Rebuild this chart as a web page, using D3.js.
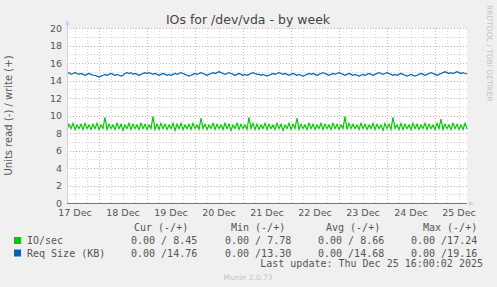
<!DOCTYPE html>
<html lang="en">
<head>
<meta charset="UTF-8">
<title>IOs for /dev/vda - by week</title>
<script src="https://d3js.org/d3.v7.min.js"></script>
<style>
  body { margin: 0; background: #f0f0f0; }
  svg { display: block; }
  .lbl { font-family: "DejaVu Sans", sans-serif; fill: #555; }
  .mono { font-family: "DejaVu Sans Mono", monospace; font-size: 10px; fill: #555; }
</style>
</head>
<body>
<svg id="chart"></svg>
<script>
// hourly samples starting 17 Dec 08:00 (UTC), ending 25 Dec 16:00
const startTime = Date.UTC(2025, 11, 17, 8);
const endTime = Date.UTC(2025, 11, 25, 16);

const ioSec = [
  8.4,9.0,8.5,9.1,8.4,8.9,8.5,9.0,8.4,9.1,8.5,8.9,8.4,9.0,8.5,9.1,8.4,8.9,8.5,9.8,8.4,9.0,8.5,8.9,
  8.4,9.1,8.5,9.0,8.3,8.9,8.5,9.1,8.4,9.0,8.5,8.9,8.4,9.1,8.5,9.0,8.4,8.9,8.5,9.9,8.4,9.0,8.4,9.1,
  8.5,9.0,8.4,8.9,8.5,9.1,8.3,9.0,8.5,9.1,8.4,8.9,8.5,9.0,8.4,9.1,8.5,8.9,8.4,9.7,8.5,9.0,8.4,8.9,
  8.5,9.1,8.4,9.0,8.5,8.9,8.4,9.1,8.5,9.0,8.3,8.9,8.5,9.1,8.4,9.0,8.5,8.9,8.4,9.8,8.5,9.1,8.4,9.0,
  8.4,8.9,8.5,9.1,8.4,9.0,8.5,8.9,8.4,9.1,8.5,9.0,8.3,8.9,8.5,9.1,8.4,9.0,8.5,9.7,8.4,9.0,8.5,8.9,
  8.4,9.1,8.5,9.0,8.4,8.9,8.5,9.1,8.4,9.0,8.5,8.9,8.4,9.1,8.5,9.0,8.4,8.9,8.5,9.9,8.4,9.1,8.5,9.0,
  8.5,8.9,8.4,9.1,8.5,9.0,8.4,8.9,8.5,9.1,8.4,9.0,8.5,8.9,8.3,9.1,8.5,9.0,8.4,9.8,8.5,8.9,8.4,9.1,
  8.4,9.0,8.5,8.9,8.4,9.1,8.5,9.0,8.4,8.9,8.5,9.1,8.4,9.0,8.5,8.9,8.4,9.1,8.5,9.6,8.4,9.0,8.5,8.9,
  8.4,9.1,8.5,9.0,8.4,8.9,8.4,9.1,8.45
];

const reqSize = [
  14.8,14.9,14.7,14.8,14.9,14.8,14.7,14.8,14.7,14.6,14.7,14.8,14.7,14.6,14.6,14.5,14.4,14.5,14.6,14.7,14.6,14.7,14.8,14.7,
  14.6,14.7,14.6,14.5,14.6,14.8,14.9,14.8,14.9,14.7,14.8,14.7,14.6,14.7,14.8,14.9,14.8,14.9,14.8,14.7,14.8,14.7,14.6,14.7,
  14.8,14.7,14.6,14.7,14.6,14.7,14.8,14.7,14.8,14.9,14.8,14.7,14.6,14.5,14.6,14.7,14.8,14.7,14.8,14.9,14.8,14.7,14.6,14.7,
  14.8,14.9,14.8,14.9,15.0,14.9,14.8,14.7,14.8,14.9,14.8,14.7,14.6,14.7,14.8,14.7,14.6,14.7,14.6,14.7,14.8,14.9,14.8,14.7,
  14.7,14.6,14.7,14.6,14.5,14.6,14.7,14.8,14.7,14.8,14.9,14.8,14.7,14.8,14.7,14.6,14.7,14.8,14.7,14.6,14.7,14.6,14.5,14.6,
  14.7,14.8,14.7,14.8,14.7,14.6,14.7,14.8,14.9,14.8,14.7,14.6,14.7,14.8,14.7,14.8,14.9,14.8,14.7,14.6,14.7,14.8,14.7,14.6,
  14.7,14.6,14.5,14.6,14.7,14.6,14.7,14.8,14.7,14.6,14.7,14.8,14.9,14.8,14.7,14.8,14.9,14.8,14.7,14.6,14.7,14.6,14.7,14.8,
  14.7,14.6,14.5,14.6,14.7,14.6,14.5,14.6,14.7,14.8,14.7,14.6,14.7,14.8,14.9,14.8,14.7,14.6,14.7,14.8,14.9,15.0,14.9,14.8,
  14.9,14.8,14.9,15.0,14.9,14.8,14.9,14.8,14.76
];

const yTicks = [0, 2, 4, 6, 8, 10, 12, 14, 16, 18, 20];

const legendNames = ["IO/sec", "Req Size (KB)"];
const legendColors = ["#00cc00", "#0066b3"];
const legendHeaders = ["Cur (-/+)", "Min (-/+)", "Avg (-/+)", "Max (-/+)"];
const legendValues = [
  ["0.00 / 8.45", "0.00 / 7.78", "0.00 / 8.66", "0.00 /17.24"],
  ["0.00 /14.76", "0.00 /13.30", "0.00 /14.68", "0.00 /19.16"]
];

const W = 497, H = 287;
const plot = { left: 67, right: 467, top: 28, bottom: 203 };

const svg = d3.select("#chart").attr("width", W).attr("height", H);

const x = d3.scaleUtc().domain([startTime, endTime]).range([plot.left, plot.right]);
const y = d3.scaleLinear().domain([0, 20]).range([plot.bottom, plot.top]);

// plot background
svg.append("rect")
  .attr("x", plot.left).attr("y", plot.top)
  .attr("width", plot.right - plot.left).attr("height", plot.bottom - plot.top)
  .attr("fill", "#fff");

// minor grid
const grid = svg.append("g").attr("fill", "none").attr("stroke-dasharray", "1,2");
d3.range(1, 20, 2).forEach(v => {
  grid.append("line").attr("x1", plot.left).attr("x2", plot.right)
    .attr("y1", Math.round(y(v)) + 0.5).attr("y2", Math.round(y(v)) + 0.5)
    .attr("stroke", "#d0d0d0");
});
d3.utcHour.every(6).range(new Date(startTime), new Date(endTime)).forEach(t => {
  if (t.getUTCHours() === 0) return;
  grid.append("line").attr("y1", plot.top).attr("y2", plot.bottom)
    .attr("x1", Math.round(x(t)) + 0.5).attr("x2", Math.round(x(t)) + 0.5)
    .attr("stroke", "#d0d0d0");
});
// major grid
yTicks.filter(v => v > 0).forEach(v => {
  grid.append("line").attr("x1", plot.left).attr("x2", plot.right + 2)
    .attr("y1", Math.round(y(v)) + 0.5).attr("y2", Math.round(y(v)) + 0.5)
    .attr("stroke", "#eaa6a6");
});
const days = d3.utcDay.range(new Date(startTime), new Date(endTime));
days.forEach(t => {
  grid.append("line").attr("y1", plot.top).attr("y2", plot.bottom + 2)
    .attr("x1", Math.round(x(t)) + 0.5).attr("x2", Math.round(x(t)) + 0.5)
    .attr("stroke", "#eaa6a6");
});

// y tick labels
svg.selectAll(".ytick").data(yTicks).enter().append("text")
  .attr("class", "lbl")
  .attr("x", 62).attr("y", d => y(d) + 3.5)
  .attr("text-anchor", "end")
  .style("font-size", "9.5px")
  .text(d => d);

// x tick labels at noon
const noons = d3.utcDay.range(new Date(Date.UTC(2025, 11, 17)), new Date(endTime))
  .map(d => new Date(d.getTime() + 12 * 3600e3))
  .filter(d => d.getTime() > startTime && d.getTime() < endTime + 6 * 3600e3);
const fmt = d3.utcFormat("%-d %b");
svg.selectAll(".xtick").data(noons).enter().append("text")
  .attr("class", "lbl")
  .attr("x", d => x(d)).attr("y", 216)
  .attr("text-anchor", "middle")
  .style("font-size", "9.5px")
  .text(d => fmt(d));

// data lines
const toPoints = arr => arr.map((v, i) => [startTime + i * 3600e3, v]);
const line = d3.line().x(d => x(d[0])).y(d => y(d[1]));

// read side (-) is zero for both series
svg.append("line")
  .attr("x1", plot.left).attr("x2", plot.right)
  .attr("y1", plot.bottom + 0.5).attr("y2", plot.bottom + 0.5)
  .attr("stroke", "#777").attr("stroke-width", 1);

svg.append("path").datum(toPoints(ioSec))
  .attr("d", line).attr("fill", "none")
  .attr("stroke", legendColors[0]).attr("stroke-width", 1.2);
svg.append("path").datum(toPoints(reqSize))
  .attr("d", line).attr("fill", "none")
  .attr("stroke", legendColors[1]).attr("stroke-width", 1.2);

// axes
svg.append("line")
  .attr("x1", plot.left + 0.5).attr("x2", plot.left + 0.5)
  .attr("y1", plot.top - 4).attr("y2", plot.bottom)
  .attr("stroke", "#c8cff0");
svg.append("path")
  .attr("d", `M${plot.left - 2},${plot.top - 3} L${plot.left + 3},${plot.top - 3} L${plot.left + 0.5},${plot.top - 8} Z`)
  .attr("fill", "#c8cff0");
svg.append("path")
  .attr("d", `M${plot.right + 2},${plot.bottom - 2} L${plot.right + 2},${plot.bottom + 3} L${plot.right + 7},${plot.bottom + 0.5} Z`)
  .attr("fill", "#c8cff0");

// title
svg.append("text").attr("class", "lbl")
  .attr("x", 248).attr("y", 24)
  .attr("text-anchor", "middle")
  .style("font-size", "12.5px").style("fill", "#444")
  .text("IOs for /dev/vda - by week");

// y axis label
svg.append("text").attr("class", "lbl")
  .attr("transform", `translate(12,${(plot.top + plot.bottom) / 2}) rotate(-90)`)
  .attr("text-anchor", "middle")
  .style("font-size", "10px")
  .text("Units read (-) / write (+)");

// side watermark
svg.append("text").attr("class", "lbl")
  .attr("transform", "translate(487,5) rotate(90)")
  .attr("text-anchor", "start")
  .style("font-size", "7.5px").style("fill", "#c4c4c4")
  .text("RRDTOOL / TOBI OETIKER");

// legend
const headerX = [134, 231, 326, 423];
const valueX = [131, 225, 318, 411];
legendHeaders.forEach((h, i) => {
  svg.append("text").attr("class", "mono")
    .attr("x", headerX[i]).attr("y", 231).text(h);
});
legendNames.forEach((n, r) => {
  const yy = 244 + r * 12.5;
  svg.append("rect").attr("x", 14).attr("y", yy - 7)
    .attr("width", 7).attr("height", 7).attr("fill", legendColors[r]);
  svg.append("text").attr("class", "mono").attr("x", 27).attr("y", yy).text(n);
  legendValues[r].forEach((v, i) => {
    svg.append("text").attr("class", "mono")
      .attr("x", valueX[i]).attr("y", yy).text(v);
  });
});
svg.append("text").attr("class", "mono")
  .attr("x", 483).attr("y", 267).attr("text-anchor", "end")
  .text("Last update: Thu Dec 25 16:00:02 2025");
svg.append("text").attr("class", "lbl")
  .attr("x", 248).attr("y", 280).attr("text-anchor", "middle")
  .style("font-size", "7.5px").style("fill", "#c4c4c4")
  .text("Munin 2.0.73");
</script>
</body>
</html>
